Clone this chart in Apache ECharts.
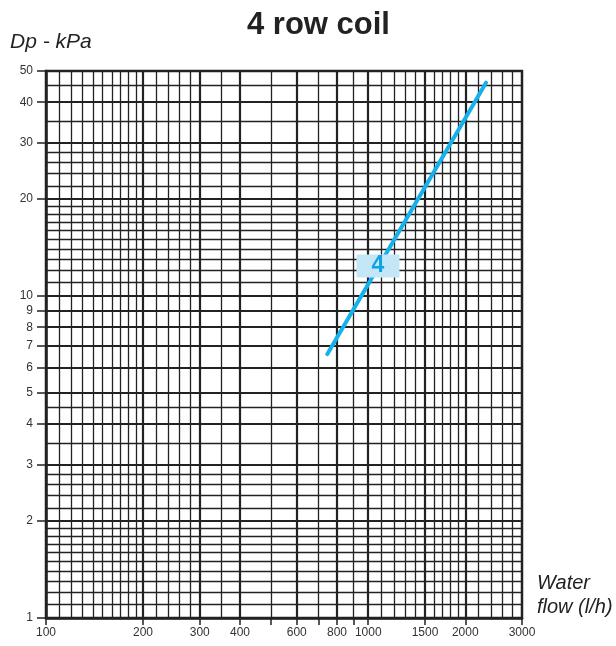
<!DOCTYPE html>
<html>
<head>
<meta charset="utf-8">
<script src="https://cdn.jsdelivr.net/npm/echarts@6/dist/echarts.min.js"></script>
<style>
  body { margin: 0; background: #fff; }
  #main { width: 616px; height: 646px; }
</style>
</head>
<body>
<div id="main"></div>
<script>
// axis ticks and labels (log-log paper)
var xTicks = [100, 200, 300, 400, 500, 600, 700, 800, 900, 1000, 1500, 2000, 3000];
var xLabels = [100, 200, 300, 400, 600, 800, 1000, 1500, 2000, 3000];
var yTicks = [1, 2, 3, 4, 5, 6, 7, 8, 9, 10, 20, 30, 40, 50];

// grid lines of the log paper
var xGridMajor = [200, 300, 400, 600, 800, 1000, 1500, 2000];
var xGridMinor = [110, 120, 130, 140, 150, 160, 170, 180, 190,
                  220, 240, 260, 280, 350, 500, 700, 900,
                  1100, 1200, 1300, 1400, 1600, 1700, 1800, 1900,
                  2200, 2400, 2600, 2800];
var yGridMajor = [2, 3, 4, 5, 6, 7, 8, 9, 10, 20, 30, 40];
var yGridMinor = [1.1, 1.2, 1.3, 1.4, 1.5, 1.6, 1.7, 1.8, 1.9,
                  2.2, 2.4, 2.6, 2.8, 3.5, 4.5,
                  11, 12, 13, 14, 15, 16, 17, 18, 19,
                  22, 24, 26, 28, 35, 45];

// coil "4": water flow (l/h) -> pressure drop (kPa)
var flow = [746, 2320];
var dp = [6.6, 46];
var coilName = '4';
var coilLabelAt = [1072, 12.4];

var font = 'Liberation Sans, Arial, Helvetica, sans-serif';
var ink = '#222';

function gridLines(vals, key, width) {
    return {
        type: 'line',
        data: [],
        silent: true,
        z: 1,
        markLine: {
            silent: true,
            symbol: 'none',
            animation: false,
            label: { show: false },
            lineStyle: { color: ink, width: width, type: 'solid' },
            data: vals.map(function (v) { var o = {}; o[key] = v; return o; })
        }
    };
}

var chart = echarts.init(document.getElementById('main'));
chart.setOption({
    animation: false,
    title: {
        text: '4 row coil',
        left: 242,
        top: 5,
        textStyle: { fontSize: 31, fontWeight: 'bold', color: ink, fontFamily: font }
    },
    grid: {
        left: 46, right: 94, top: 71, bottom: 28,
        show: true, borderColor: ink, borderWidth: 2.5
    },
    xAxis: {
        type: 'log',
        logBase: 10,
        min: 100,
        max: 3000,
        name: 'Water\nflow (l/h)',
        nameLocation: 'end',
        nameGap: 15,
        nameTextStyle: {
            fontSize: 20, fontStyle: 'italic', color: ink, fontFamily: font,
            align: 'left', verticalAlign: 'bottom', lineHeight: 24, padding: [0, 0, -1, 0]
        },
        axisLine: { show: true, lineStyle: { color: ink, width: 2.5 } },
        axisTick: { show: true, inside: false, length: 7, customValues: xTicks,
                    lineStyle: { color: ink, width: 1.5 } },
        axisLabel: { show: true, customValues: xLabels, margin: 9,
                     fontSize: 12, color: '#333', fontFamily: font,
                     formatter: function (v) { return String(v); } },
        splitLine: { show: false },
        minorTick: { show: false },
        minorSplitLine: { show: false }
    },
    yAxis: {
        type: 'log',
        logBase: 10,
        min: 1,
        max: 50,
        name: 'Dp - kPa',
        nameLocation: 'end',
        nameGap: 18,
        nameTextStyle: {
            fontSize: 21, fontStyle: 'italic', color: ink, fontFamily: font,
            align: 'left', padding: [0, 0, 0, -36]
        },
        axisLine: { show: true, lineStyle: { color: ink, width: 2.5 } },
        axisTick: { show: true, inside: false, length: 9, customValues: yTicks,
                    lineStyle: { color: ink, width: 1.5 } },
        axisLabel: { show: true, customValues: yTicks, margin: 13,
                     fontSize: 12, color: '#333', fontFamily: font,
                     formatter: function (v) { return String(v); } },
        splitLine: { show: false },
        minorTick: { show: false },
        minorSplitLine: { show: false }
    },
    series: [
        gridLines(xGridMinor, 'xAxis', 1.3),
        gridLines(yGridMinor, 'yAxis', 1.3),
        gridLines(xGridMajor, 'xAxis', 2.2),
        gridLines(yGridMajor, 'yAxis', 2.2),
        {
            type: 'line',
            name: coilName,
            z: 5,
            symbol: 'none',
            lineStyle: { color: '#16b0ea', width: 4, cap: 'round' },
            data: flow.map(function (f, i) { return [f, dp[i]]; })
        },
        {
            // curve tag box
            type: 'scatter',
            z: 10,
            silent: true,
            symbol: 'rect',
            symbolSize: [43, 23],
            itemStyle: { color: '#c4e7f8', opacity: 1 },
            label: {
                show: true, position: 'inside',
                formatter: function () { return coilName; },
                color: '#0fa3e3', fontSize: 23, fontWeight: 'bold', fontFamily: font,
                textBorderWidth: 0
            },
            data: [coilLabelAt]
        }
    ]
});
</script>
</body>
</html>
